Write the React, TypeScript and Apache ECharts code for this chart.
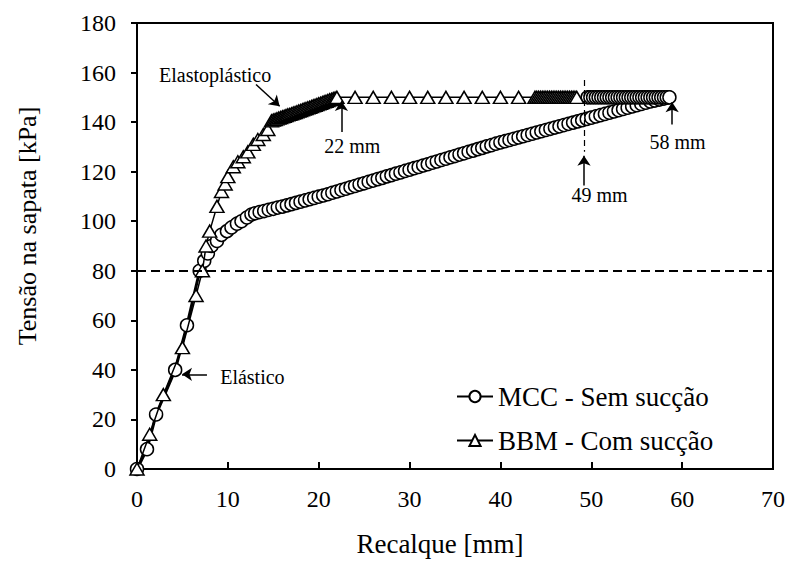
import React, { useEffect, useRef } from "react";
import * as echarts from "echarts";

const FONT = "Liberation Serif";

const seriesNames = ["MCC - Sem sucção", "BBM - Com sucção"];

// MCC curve: [recalque mm, tensão kPa]
const mccCurve: [number, number][] = [
  [0, 0], [1.1, 8], [2.1, 22], [4.2, 40], [5.5, 58], [6.9, 80], [7.4, 84], [7.8, 87],
  [8.2, 90], [8.8, 92], [9.3, 94.5], [9.9, 96], [10.4, 97.5], [11.0, 99], [11.5, 100],
  [12.1, 101.5], [12.6, 102.7],
  [13.0, 103.2], [13.5, 103.7], [14.0, 104.1], [14.5, 104.6], [15.0, 105.0], [15.5, 105.5],
  [16.0, 105.9], [16.5, 106.4], [17.0, 106.9], [17.5, 107.4], [18.0, 107.9], [18.5, 108.4],
  [19.0, 108.9], [19.5, 109.4], [20.0, 109.9], [20.5, 110.4], [21.0, 110.9], [21.5, 111.5],
  [22.0, 112.0], [22.5, 112.6], [23.0, 113.1], [23.5, 113.7], [24.0, 114.2], [24.5, 114.8],
  [25.0, 115.3], [25.5, 115.9], [26.0, 116.4], [26.5, 117.0], [27.0, 117.5], [27.5, 118.1],
  [28.0, 118.6], [28.5, 119.2], [29.0, 119.7], [29.5, 120.3], [30.0, 120.8], [30.5, 121.4],
  [31.0, 121.9], [31.5, 122.5], [32.0, 123.0], [32.5, 123.6], [33.0, 124.1], [33.5, 124.7],
  [34.0, 125.2], [34.5, 125.8], [35.0, 126.3], [35.5, 126.9], [36.0, 127.4], [36.5, 128.0],
  [37.0, 128.5], [37.5, 129.1], [38.0, 129.6], [38.5, 130.2], [39.0, 130.7], [39.5, 131.3],
  [40.0, 131.8], [40.5, 132.3], [41.0, 132.8], [41.5, 133.3], [42.0, 133.8], [42.5, 134.3],
  [43.0, 134.8], [43.5, 135.3], [44.0, 135.8], [44.5, 136.3], [45.0, 136.8], [45.5, 137.3],
  [46.0, 137.8], [46.5, 138.3], [47.0, 138.8], [47.5, 139.3], [48.0, 139.8], [48.5, 140.3],
  [49.0, 140.8], [49.5, 141.3], [50.0, 141.8], [50.5, 142.3], [51.0, 142.8], [51.5, 143.3],
  [52.0, 143.8], [52.5, 144.3], [53.0, 144.8], [53.5, 145.3], [54.0, 145.8], [54.5, 146.3],
  [55.0, 146.8], [55.5, 147.3], [56.0, 147.8], [56.5, 148.3], [57.0, 148.7], [57.5, 149.1],
  [58.0, 149.5], [58.5, 150.0],
];

// MCC points drawn along the 150 kPa level
const mccPlateau: [number, number][] = [
  [49.6, 150], [49.9, 150], [50.2, 150], [50.5, 150], [50.8, 150], [51.1, 150], [51.4, 150],
  [51.7, 150], [52.0, 150], [52.3, 150], [52.6, 150], [52.9, 150], [53.2, 150], [53.5, 150],
  [53.8, 150], [54.1, 150], [54.4, 150], [54.7, 150], [55.0, 150], [55.3, 150], [55.6, 150],
  [55.9, 150], [56.2, 150], [56.5, 150], [56.8, 150], [57.1, 150], [57.4, 150], [57.7, 150],
  [58.0, 150], [58.3, 150], [58.6, 150],
];

// BBM curve
const bbmCurve: [number, number][] = [
  [0, 0], [1.4, 14], [2.9, 30], [5.0, 49], [6.5, 70], [7.2, 80], [7.6, 90], [8.0, 96],
  [8.8, 106], [9.3, 112], [9.7, 115], [10.0, 118], [10.6, 122], [11.1, 124], [11.7, 126],
  [12.2, 128], [12.8, 131], [13.3, 133], [13.9, 135], [14.4, 137],
  [14.8, 140.5], [15.0, 140.8], [15.2, 141.0], [15.4, 141.3], [15.6, 141.6], [15.8, 141.8],
  [16.0, 142.1], [16.2, 142.3], [16.4, 142.6], [16.6, 142.9], [16.8, 143.1], [17.0, 143.4],
  [17.2, 143.7], [17.4, 143.9], [17.6, 144.2], [17.8, 144.5], [18.0, 144.7], [18.2, 145.0],
  [18.4, 145.3], [18.6, 145.5], [18.8, 145.8], [19.0, 146.0], [19.2, 146.3], [19.4, 146.6],
  [19.6, 146.8], [19.8, 147.1], [20.0, 147.4], [20.2, 147.6], [20.4, 147.9], [20.6, 148.2],
  [20.8, 148.4], [21.0, 148.7], [21.2, 149.0], [21.4, 149.2], [21.6, 149.5], [21.8, 149.7],
  [22.0, 150],
  [24, 150], [26, 150], [28, 150], [30, 150], [32, 150], [34, 150], [36, 150], [38, 150],
  [40, 150], [42, 150],
  [43.8, 150], [44.0, 150], [44.2, 150], [44.4, 150], [44.6, 150], [44.8, 150], [45.0, 150],
  [45.2, 150], [45.4, 150], [45.6, 150], [45.8, 150], [46.0, 150], [46.2, 150], [46.4, 150],
  [46.6, 150], [46.8, 150], [47.0, 150], [47.2, 150], [47.4, 150], [47.6, 150], [47.8, 150],
  [48.0, 150], [48.2, 150], [48.4, 150],
];

// annotation texts and where they sit (data coordinates)
const noteNames = ["Elastoplástico", "22 mm", "49 mm", "58 mm", "Elástico"];
const noteCoords: [number, number][] = [[8.6, 159], [23.7, 130.5], [50.9, 110.4], [59.5, 132], [12.7, 37.2]];

// arrows: [from, to]
const arrowSegments: [[number, number], [number, number]][] = [
  [[13.1, 155.2], [15.7, 146.4]],
  [[22.5, 136], [22.5, 148.5]],
  [[49.2, 114.4], [49.2, 126.4]],
  [[58.9, 139], [58.9, 148]],
  [[7.7, 38.2], [4.95, 38.2]],
];

const limitLevel = 80;
const verticalMark: [[number, number], [number, number]] = [[49.2, 157], [49.2, 128]];

export default function App() {
  const ref = useRef<HTMLDivElement>(null);
  useEffect(() => {
    const chart = echarts.init(ref.current!, null, { renderer: "svg" });
    const markerStyle = { color: "#fff", borderColor: "#000", borderWidth: 1.5 };
    chart.setOption({
      animation: false,
      backgroundColor: "#fff",
      textStyle: { fontFamily: FONT, color: "#000" },
      grid: { left: 137, right: 19, top: 23, bottom: 89, show: true, borderColor: "#000", borderWidth: 2, backgroundColor: "transparent" },
      legend: {
        orient: "vertical",
        left: 456,
        top: 383,
        padding: 0,
        itemWidth: 36,
        itemHeight: 14,
        itemGap: 17,
        data: seriesNames,
        textStyle: { fontFamily: FONT, fontSize: 27, color: "#000" },
      },
      xAxis: {
        type: "value",
        min: 0,
        max: 70,
        interval: 10,
        name: "Recalque [mm]",
        nameLocation: "middle",
        nameGap: 61,
        nameTextStyle: { fontFamily: FONT, fontSize: 27, color: "#000", padding: [0, 30, 0, 0] },
        axisLine: { show: true, onZero: false, lineStyle: { color: "#000", width: 2 } },
        axisTick: { show: true, inside: true, length: 7, lineStyle: { color: "#000", width: 2 } },
        axisLabel: { fontFamily: FONT, fontSize: 24, color: "#000", margin: 18 },
        splitLine: { show: false },
      },
      yAxis: {
        type: "value",
        min: 0,
        max: 180,
        interval: 20,
        name: "Tensão na sapata [kPa]",
        nameLocation: "middle",
        nameRotate: 90,
        nameGap: 97,
        nameTextStyle: { fontFamily: FONT, fontSize: 26, color: "#000", padding: [0, 0, 0, 40] },
        axisLine: { show: true, onZero: false, lineStyle: { color: "#000", width: 2 } },
        axisTick: { show: true, inside: false, length: 6, lineStyle: { color: "#000", width: 2 } },
        axisLabel: { fontFamily: FONT, fontSize: 24, color: "#000", margin: 21 },
        splitLine: { show: false },
      },
      series: [
        {
          name: seriesNames[0],
          type: "line",
          data: mccCurve,
          symbol: "circle",
          symbolSize: 13,
          color: "#000",
          lineStyle: { color: "#000", width: 3 },
          itemStyle: markerStyle,
          z: 3,
          markLine: {
            silent: true,
            symbol: "none",
            label: { show: false },
            data: [
              { yAxis: limitLevel, lineStyle: { color: "#000", width: 2, type: [9, 5] } },
              [
                { coord: verticalMark[0], lineStyle: { color: "#000", width: 1.2, type: [6, 4] } },
                { coord: verticalMark[1] },
              ],
            ],
          },
        },
        {
          name: "MCC plateau",
          type: "line",
          data: mccPlateau,
          symbol: "circle",
          symbolSize: 13,
          color: "#000",
          lineStyle: { color: "#000", width: 3 },
          itemStyle: markerStyle,
          z: 3,
        },
        {
          name: seriesNames[1],
          type: "line",
          data: bbmCurve,
          symbol: "triangle",
          symbolSize: [14, 12],
          color: "#000",
          lineStyle: { color: "#000", width: 1.5 },
          itemStyle: markerStyle,
          z: 4,
          markLine: {
            silent: true,
            symbol: ["none", "arrow"],
            symbolSize: 10,
            label: { show: false },
            lineStyle: { color: "#000", width: 1.5, type: "solid" },
            data: arrowSegments.map(([a, b]) => [{ coord: a }, { coord: b }]),
          },
          markPoint: {
            silent: true,
            symbol: "circle",
            symbolSize: 0,
            label: {
              show: true,
              position: "inside",
              formatter: "{b}",
              fontFamily: FONT,
              fontSize: 20,
              color: "#000",
            },
            data: noteNames.map((n, i) => ({ name: n, coord: noteCoords[i] })),
          },
        },
      ],
    });
    return () => chart.dispose();
  }, []);
  return <div ref={ref} style={{ position: "fixed", left: 0, top: 0, width: 792, height: 562 }} />;
}
